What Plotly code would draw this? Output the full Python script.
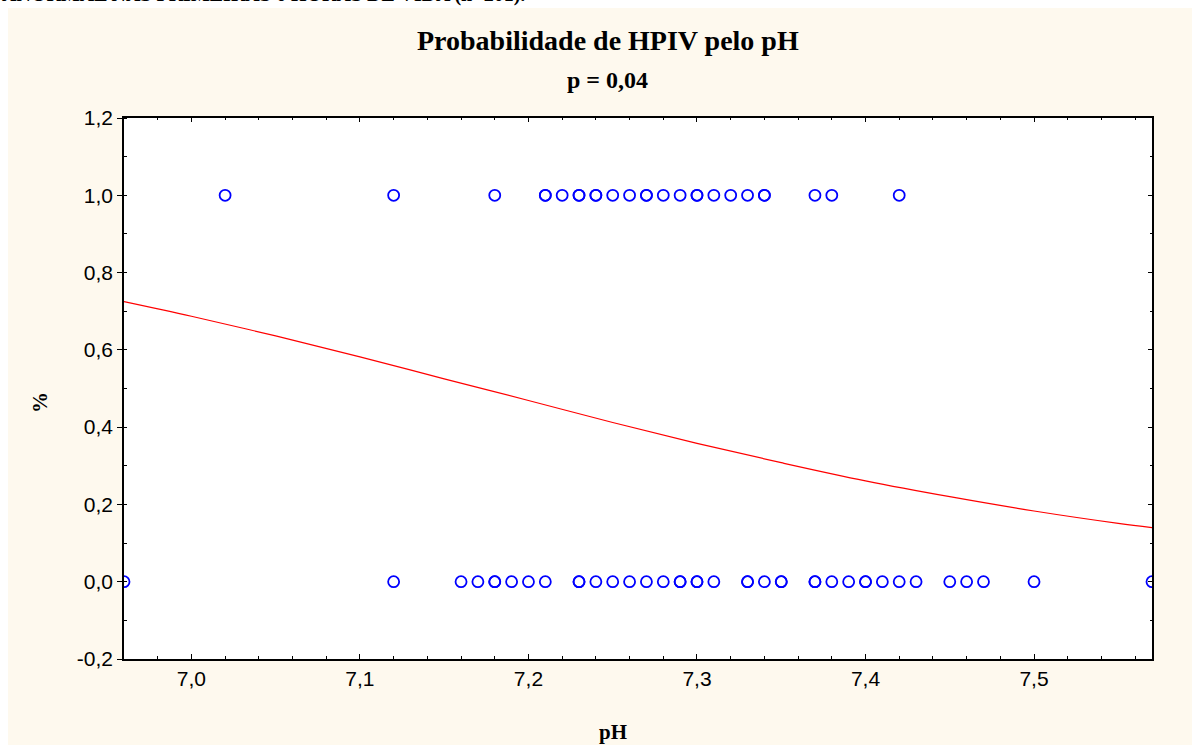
import plotly.graph_objects as go

# ---- data ----
ph_hpiv = [7.02, 7.12, 7.18, 7.21, 7.21, 7.22, 7.23, 7.23, 7.24, 7.24, 7.25, 7.26, 7.27, 7.27,
           7.28, 7.29, 7.30, 7.30, 7.31, 7.32, 7.33, 7.34, 7.34, 7.37, 7.38, 7.42]
ph_no_hpiv = [6.96, 7.12, 7.16, 7.17, 7.18, 7.18, 7.19, 7.20, 7.21, 7.23, 7.23, 7.24, 7.25, 7.26,
              7.27, 7.28, 7.29, 7.29, 7.30, 7.30, 7.31, 7.33, 7.33, 7.34, 7.35, 7.35, 7.37, 7.37,
              7.38, 7.39, 7.40, 7.40, 7.41, 7.42, 7.43, 7.45, 7.46, 7.47, 7.50, 7.57]
curve_ph = [6.96, 7.00, 7.05, 7.10, 7.15, 7.20, 7.25, 7.30, 7.35, 7.40, 7.45, 7.50, 7.55, 7.57]
curve_prob = [0.725, 0.687, 0.636, 0.582, 0.525, 0.469, 0.412, 0.358, 0.308, 0.261, 0.220,
              0.183, 0.151, 0.140]
y_ticks = [-0.2, 0.0, 0.2, 0.4, 0.6, 0.8, 1.0, 1.2]
y_ticktext = ["-0,2", "0,0", "0,2", "0,4", "0,6", "0,8", "1,0", "1,2"]
x_ticks = [7.0, 7.1, 7.2, 7.3, 7.4, 7.5]
x_ticktext = ["7,0", "7,1", "7,2", "7,3", "7,4", "7,5"]

W, H = 1192, 745
L, R, T, B = 124, 1152, 118, 659

def px_x(p):
    return (p - L) / (R - L)

def px_y(p):
    return (B - p) / (B - T)

fig = go.Figure()
fig.add_trace(go.Scatter(x=curve_ph, y=curve_prob, mode="lines",
                         line=dict(color="#FF0000", width=1.2, shape="spline"),
                         showlegend=False, hoverinfo="skip"))
fig.add_trace(go.Scatter(x=ph_hpiv, y=[1.0] * len(ph_hpiv), mode="markers",
                         marker=dict(symbol="circle-open", size=11, color="#0000FF",
                                     line=dict(width=1.8, color="#0000FF")),
                         showlegend=False))
fig.add_trace(go.Scatter(x=ph_no_hpiv, y=[0.0] * len(ph_no_hpiv), mode="markers",
                         marker=dict(symbol="circle-open", size=11, color="#0000FF",
                                     line=dict(width=1.8, color="#0000FF")),
                         showlegend=False))
# invisible trace on mirror axes
fig.add_trace(go.Scatter(x=[7.0], y=[0.0], xaxis="x2", yaxis="y2", mode="markers",
                         marker=dict(opacity=0), showlegend=False, hoverinfo="skip"))

tickfont = dict(family="Liberation Sans, Arial, sans-serif", size=21, color="#000000")
fig.update_layout(
    width=W, height=H,
    margin=dict(l=L, r=W - R, t=T, b=H - B),
    paper_bgcolor="#FEF9EE",
    plot_bgcolor="#FFFFFF",
    xaxis=dict(range=[6.96, 7.57], tickvals=x_ticks, ticktext=x_ticktext,
               ticks="inside", ticklen=5, tickcolor="#000", tickwidth=1,
               minor=dict(dtick=0.02, tick0=7.0, ticks="inside", ticklen=3, tickcolor="#000"),
               showline=True, linecolor="#000", linewidth=1.5, showgrid=False,
               zeroline=False, tickfont=tickfont),
    yaxis=dict(range=[-0.2, 1.2], tickvals=y_ticks, ticktext=y_ticktext,
               ticks="outside", ticklen=5, tickcolor="#000", tickwidth=1,
               minor=dict(dtick=0.1, tick0=0, ticks="inside", ticklen=3, tickcolor="#000"),
               showline=True, linecolor="#000", linewidth=1.5, showgrid=False,
               zeroline=False, tickfont=tickfont),
    xaxis2=dict(range=[6.96, 7.57], overlaying="x", side="top", tickvals=x_ticks,
                ticks="inside", ticklen=4, tickcolor="#000", showticklabels=False,
                minor=dict(dtick=0.02, tick0=7.0, ticks="inside", ticklen=2, tickcolor="#000"),
                showline=True, linecolor="#000", linewidth=1.5, showgrid=False, zeroline=False),
    yaxis2=dict(range=[-0.2, 1.2], overlaying="y", side="right", tickvals=y_ticks,
                ticks="inside", ticklen=4, tickcolor="#000", showticklabels=False,
                minor=dict(dtick=0.1, tick0=0, ticks="inside", ticklen=2, tickcolor="#000"),
                showline=True, linecolor="#000", linewidth=1.5, showgrid=False, zeroline=False),
    shapes=[
        dict(type="rect", xref="paper", yref="paper", x0=px_x(-20), x1=px_x(8),
             y0=px_y(H + 20), y1=px_y(-20), fillcolor="#FFFFFF", line=dict(width=0), layer="below"),
        dict(type="rect", xref="paper", yref="paper", x0=px_x(-20), x1=px_x(W + 20),
             y0=px_y(8), y1=px_y(-20), fillcolor="#FFFFFF", line=dict(width=0), layer="below"),
    ],
)

serif_b = "Liberation Serif, Times New Roman, serif"
fig.add_annotation(text="<b>ANORMAL NAS PRIMEIRAS 6 HORAS DE VIDA (n=201).</b>",
                   xref="paper", yref="paper", x=px_x(0), y=px_y(8), xanchor="left",
                   yanchor="bottom", showarrow=False,
                   font=dict(family=serif_b, size=20, color="#000"))
fig.add_annotation(text="<b>Probabilidade de HPIV pelo pH</b>", xref="paper", yref="paper",
                   x=px_x(608), y=px_y(41), xanchor="center", yanchor="middle",
                   showarrow=False, font=dict(family=serif_b, size=28, color="#000"))
fig.add_annotation(text="<b>p = 0,04</b>", xref="paper", yref="paper",
                   x=px_x(607), y=px_y(80), xanchor="center", yanchor="middle",
                   showarrow=False, font=dict(family=serif_b, size=24, color="#000"))
fig.add_annotation(text="<b>pH</b>", xref="paper", yref="paper",
                   x=px_x(613), y=px_y(732), xanchor="center", yanchor="middle",
                   showarrow=False, font=dict(family=serif_b, size=21, color="#000"))
fig.add_annotation(text="<b>%</b>", xref="paper", yref="paper",
                   x=px_x(40), y=px_y(403), xanchor="center", yanchor="middle",
                   textangle=-90, showarrow=False, font=dict(family=serif_b, size=21, color="#000"))

fig.write_html("out.html")
